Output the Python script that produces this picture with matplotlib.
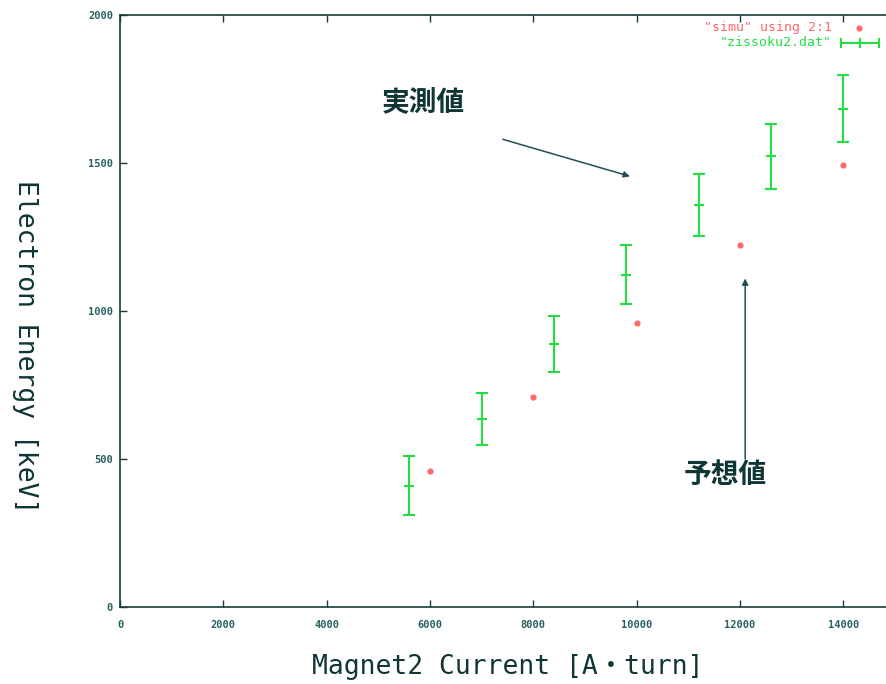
import numpy as np
import matplotlib
matplotlib.use("Agg")
import matplotlib.pyplot as plt

plt.rcParams['font.family'] = ['DejaVu Sans Mono', 'Noto Sans CJK JP']

# measured data (zissoku2.dat): current, energy, error
meas_x = [5600, 7000, 8400, 9800, 11200, 12600, 14000]
meas_y = [410, 635, 888, 1122, 1358, 1522, 1684]
meas_err = [100, 88, 95, 100, 105, 110, 112]

# simulation ("simu" using 2:1)
simu_x = [6000, 8000, 10000, 12000, 14000]
simu_y = [461, 708, 958, 1222, 1492]

x_ticks = [0, 2000, 4000, 6000, 8000, 10000, 12000, 14000]
y_ticks = [0, 500, 1000, 1500, 2000]

axis_col = '#1c3c3c'
text_col = '#0f3535'
arrow_col = '#1f4f55'
red = '#ff6a6a'
green = '#22dd44'

fig = plt.figure(figsize=(8.86, 6.84), dpi=100)
fig.patch.set_facecolor('white')
# axes runs past the right edge (the original image is cropped)
ax = fig.add_axes([120/886, 77/684, 775/886, 592/684])

ax.errorbar(meas_x, meas_y, yerr=meas_err, fmt='none', ecolor=green,
            elinewidth=1.5, capsize=4, capthick=1.5, zorder=3)
ax.plot(meas_x, meas_y, linestyle='none', marker='_', markersize=7,
        markeredgewidth=1.5, color=green, zorder=3)
ax.plot(simu_x, simu_y, linestyle='none', marker='o', markersize=4.5,
        color=red, markeredgewidth=0, zorder=4)

ax.set_xlim(0, 15000)
ax.set_ylim(0, 2000)
ax.set_xticks(x_ticks)
ax.set_yticks(y_ticks)
ax.tick_params(direction='in', length=5, width=1, color=axis_col,
               top=True, right=True, labelsize=7.5, labelcolor='#2a6060')
ax.tick_params(axis='y', pad=5)
ax.tick_params(axis='x', pad=9)
for lab in ax.get_xticklabels() + ax.get_yticklabels():
    lab.set_fontweight('bold')
for s in ax.spines.values():
    s.set_color(axis_col)
    s.set_linewidth(1.2)

ax.set_xlabel('Magnet2 Current [A・turn]', fontsize=19, color=text_col,
              labelpad=18)
ax.set_ylabel('Electron Energy [keV]', fontsize=19, color=text_col,
              rotation=270)
ax.yaxis.set_label_coords(-0.14, 0.44)

# annotations
ax.annotate('', xy=(9870, 1455), xytext=(7410, 1580),
            arrowprops=dict(arrowstyle='-|>', color=arrow_col, lw=1.1,
                            mutation_scale=9, shrinkA=0, shrinkB=0))
ax.text(5870, 1705, '実測値', fontsize=20, family='Noto Sans CJK JP',
        fontweight='bold', ha='center', va='center', color=text_col)
ax.annotate('', xy=(12100, 1110), xytext=(12100, 500),
            arrowprops=dict(arrowstyle='-|>', color=arrow_col, lw=1.1,
                            mutation_scale=9, shrinkA=0, shrinkB=0))
ax.text(11710, 446, '予想値', fontsize=20, family='Noto Sans CJK JP',
        fontweight='bold', ha='center', va='center', color=text_col)

# gnuplot-style key, top right
fig.text(832/886, 1 - 28/684, '"simu" using 2:1', fontsize=9.5, color=red,
         ha='right', va='center')
fig.text(832/886, 1 - 43/684, '"zissoku2.dat"', fontsize=9.5, color=green,
         ha='right', va='center')
fig.add_artist(plt.Line2D([859/886], [1 - 28/684], marker='o', markersize=4.5,
                          color=red, markeredgewidth=0, linestyle='none'))
ky = 1 - 43/684
fig.add_artist(plt.Line2D([841/886, 879/886], [ky, ky], color=green, lw=1.5))
for kx in (841, 860, 879):
    fig.add_artist(plt.Line2D([kx/886, kx/886], [ky - 4/684, ky + 4/684],
                              color=green, lw=1.5))

fig.savefig('out.png', dpi=100)
